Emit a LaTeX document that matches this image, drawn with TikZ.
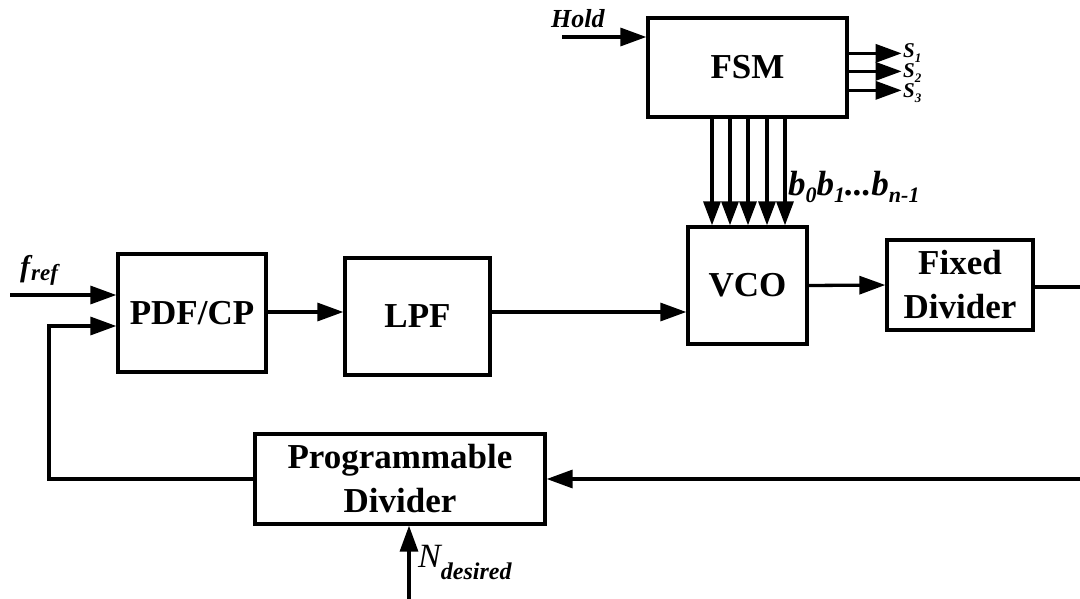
\documentclass[tikz,border=0pt]{standalone}
\usepackage{fontspec}
\setmainfont{Liberation Serif}
\usetikzlibrary{arrows.meta,calc}
\newcommand{\mysub}[3]{\raisebox{-#1pt}{\fontsize{#2}{#2}\selectfont #3}}
\tikzset{
  blk/.style={draw, line width=3.3pt, inner sep=0pt, align=center,
    font=\fontsize{35}{44}\selectfont\bfseries},
  arr/.style={line width=3.3pt, -{Triangle[length=26pt,width=18pt]}},
  lbl/.style={inner sep=0pt, font=\fontsize{25}{25}\selectfont\bfseries\itshape},
  slbl/.style={inner sep=0pt, font=\fontsize{21}{21}\selectfont\bfseries\itshape},
}
\begin{document}
\begin{tikzpicture}[x=1pt,y=-1pt]
\useasboundingbox (0,0) rectangle (1080,598);
\fill[white] (0,0) rectangle (1080,598);
\clip (0,0) rectangle (1080,598);

% blocks
\node[blk, minimum width=199pt, minimum height=99pt] (fsm) at (747.5,67.5) {FSM};
\node[blk, minimum width=148pt, minimum height=118pt] (pdf) at (192,313) {PDF/CP};
\node[blk, minimum width=145pt, minimum height=117pt] (lpf) at (417.5,316.5) {LPF};
\node[blk, minimum width=119pt, minimum height=117pt] (vco) at (747.5,285.5) {VCO};
\node[blk, minimum width=146pt, minimum height=90pt] (fd) at (960,285) {Fixed\\Divider};
\node[blk, minimum width=290pt, minimum height=90pt] (pd) at (400,479) {Programmable\\Divider};

% free ends
\coordinate (hin) at (562,37);
\coordinate (fin) at (10,295);
\coordinate (fbk) at (49,326);
\coordinate (cr1) at (1095,287);
\coordinate (cr2) at (1095,479);
\coordinate (nin) at (409,605);
\coordinate (s1e) at ($(fsm.north east)+(53,37)$);
\coordinate (s2e) at ($(fsm.north east)+(53,55)$);
\coordinate (s3e) at ($(fsm.north east)+(53,74)$);

% labels
\node[lbl, anchor=base west, font=\fontsize{26}{26}\selectfont\bfseries\itshape] (hold) at (551,27) {Hold};
\node[slbl, anchor=base west] (s1) at (903,57) {S\mysub{5}{13}{1}};
\node[slbl, anchor=base west] (s2) at (903,77) {S\mysub{5}{13}{2}};
\node[slbl, anchor=base west] (s3) at (903,97) {S\mysub{5}{13}{3}};
\node[lbl, anchor=base west, font=\fontsize{35}{35}\selectfont\bfseries\itshape] (bits) at (788,195)
  {b\mysub{7}{22}{0}b\mysub{7}{22}{1}...b\mysub{7}{22}{n-1}};
\node[lbl, anchor=base west, font=\fontsize{30}{30}\selectfont\bfseries\itshape] (fref) at (20,276)
  {f\hspace{1pt}\mysub{4}{23}{ref}};
\node[lbl, anchor=base west, font=\fontsize{34}{34}\selectfont\itshape] (nd) at (418,567)
  {N\mysub{12}{24}{\bfseries desired}};

% connectors
\draw[arr] (hin) -- (hin -| fsm.west);
\draw[arr] (s1e -| fsm.east) -- (s1e);
\draw[arr] (s2e -| fsm.east) -- (s2e);
\draw[arr] (s3e -| fsm.east) -- (s3e);
\foreach \x in {712,730,748,767,785}
  \draw[line width=3.3pt, -{Triangle[length=24pt,width=17pt]}] (fsm.south -| \x,0) -- (vco.north -| \x,0);
\draw[arr] (fin) -- (fin -| pdf.west);
\draw[arr] (pdf.east |- 0,312) -- (lpf.west |- 0,312);
\draw[arr] (lpf.east |- 0,312) -- (vco.west |- 0,312);
\draw[arr] (vco.east) -- (fd.west);
\draw[arr] (fd.east |- cr1) -- (cr1) -- (cr2) -- (pd.east);
\draw[arr] (pd.west) -| (fbk) -- (fbk -| pdf.west);
\draw[arr] (nin) -- (pd.south -| nin);
\end{tikzpicture}
\end{document}
